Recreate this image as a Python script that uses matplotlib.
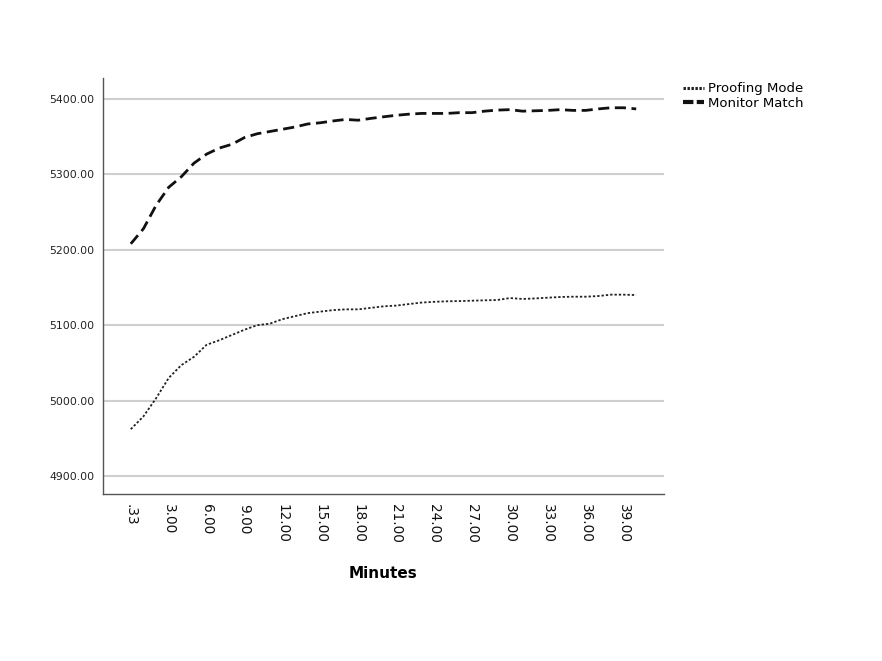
import matplotlib
matplotlib.use("Agg")
import matplotlib.pyplot as plt
import numpy as np

# Categories (minutes)
minutes = [".33"] + [f"{m}.00" for m in range(1, 41)]

proofing_mode = [
    4962, 4979, 5003, 5030, 5047, 5058, 5074, 5080, 5087, 5094,
    5100, 5102, 5108, 5112, 5116, 5118, 5120, 5121, 5121, 5123,
    5125, 5126, 5128, 5130, 5131, 5131.7, 5132, 5132.5, 5133, 5133.4,
    5136, 5134.8, 5135.5, 5136.5, 5137.4, 5137.8, 5137.8, 5138.7, 5140.5, 5140.5,
    5140,
]

monitor_match = [
    5208, 5228, 5259, 5283, 5297, 5315, 5327, 5335, 5340, 5349,
    5354, 5357, 5360, 5363, 5367, 5368.6, 5371, 5373, 5372, 5374.4,
    5376.5, 5378.5, 5380, 5381, 5381, 5381, 5382, 5382, 5384, 5385.4,
    5386, 5384, 5384.5, 5385, 5386, 5385, 5385, 5387, 5388.5, 5388.5,
    5387,
]

yticks = [4900, 5000, 5100, 5200, 5300, 5400]
xtick_every = 3

fig = plt.figure(figsize=(8.82, 6.61), dpi=100)
ax = fig.add_axes([103 / 882, 1 - 494 / 661, (664 - 103) / 882, (494 - 78) / 661])

x = np.arange(len(minutes))
l1, = ax.plot(x, proofing_mode, color="#222222", lw=1.3, linestyle=(0, (1.3, 1.1)),
              label="Proofing Mode")
l2, = ax.plot(x, monitor_match, color="#111111", lw=2.0, linestyle=(0, (4, 2)),
              label="Monitor Match")

ax.set_xlim(-2.2, len(minutes) - 1 + 2.2)
ax.set_ylim(4876, 5428)

ax.set_yticks(yticks)
ax.set_yticklabels([f"{v:.2f}" for v in yticks], fontsize=7.8, color="#222222")
tick_idx = list(range(0, len(minutes), xtick_every))
ax.set_xticks(tick_idx)
ax.set_xticklabels([minutes[i] for i in tick_idx], rotation=-90, fontsize=9.8,
                   color="#111111", va="top", ha="center")
ax.tick_params(axis="both", length=0)
ax.tick_params(axis="x", pad=7)
ax.tick_params(axis="y", pad=6)

ax.grid(axis="y", color="#cfcfcf", lw=1.5)
ax.set_axisbelow(True)
for s in ["top", "right"]:
    ax.spines[s].set_visible(False)
for s in ["left", "bottom"]:
    ax.spines[s].set_color("#555555")
    ax.spines[s].set_linewidth(1.0)

ax.set_xlabel("Minutes", fontsize=11, fontweight="bold", labelpad=17)

leg = fig.legend(handles=[l1, l2], loc="upper left", bbox_to_anchor=(678 / 882, 1 - 77 / 661),
                 frameon=False, fontsize=9.5, handlelength=1.6, handletextpad=0.3,
                 labelspacing=0.1, borderaxespad=0)
leg.get_lines()[0].set_linewidth(2.2)
leg.get_lines()[0].set_linestyle((0, (0.8, 0.5)))
leg.get_lines()[1].set_linewidth(3.0)
leg.get_lines()[1].set_linestyle((0, (2.5, 0.8)))

fig.savefig("out.png", dpi=100)
